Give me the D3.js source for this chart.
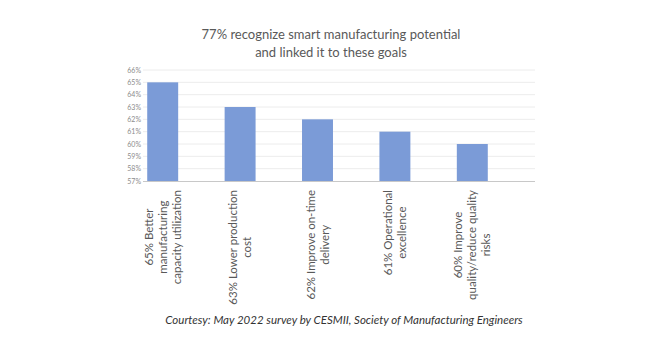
<!DOCTYPE html>
<html>
<head>
<meta charset="utf-8">
<script src="https://cdn.jsdelivr.net/npm/d3@7"></script>
<style>
  body { margin: 0; background: #fff; }
</style>
</head>
<body>
<div id="chart"></div>
<script>
// data
const categories = [
  ["65% Better", "manufacturing", "capacity utilization"],
  ["63% Lower production", "cost"],
  ["62% Improve on-time", "delivery"],
  ["61% Operational", "excellence"],
  ["60% Improve", "quality/reduce quality", "risks"]
];
const values = [65, 63, 62, 61, 60];
const yTicks = [57, 58, 59, 60, 61, 62, 63, 64, 65, 66];
const titleLines = ["77% recognize smart manufacturing potential", "and linked it to these goals"];
const footer = "Courtesy: May 2022 survey by CESMII, Society of Manufacturing Engineers";

const width = 645, height = 350;
const font = "Lato, 'Open Sans', sans-serif";

const svg = d3.select("#chart").append("svg")
  .attr("width", width)
  .attr("height", height);

const keys = categories.map(d => d.join(" "));

const x = d3.scaleBand()
  .domain(keys)
  .range([124, 511])
  .paddingInner(0.6)
  .paddingOuter(0.3);

const y = d3.scaleLinear()
  .domain([57, 66])
  .range([181, 70]);

// gridlines
svg.append("g")
  .selectAll("line")
  .data(yTicks.slice(1))
  .join("line")
  .attr("x1", 143).attr("x2", 535)
  .attr("y1", d => y(d)).attr("y2", d => y(d))
  .attr("stroke", "#ececec")
  .attr("stroke-width", 1);

// y axis labels
const yaxis = svg.append("g")
  .attr("transform", "translate(141,0)")
  .call(d3.axisLeft(y).tickValues(yTicks).tickSize(0).tickPadding(0).tickFormat(d => d + "%"))
  .call(g => g.select(".domain").remove());
yaxis.selectAll("text")
  .attr("font-family", font)
  .attr("font-size", "7px")
  .attr("fill", "#8c8c8c");

// bars
svg.append("g")
  .selectAll("rect")
  .data(values)
  .join("rect")
  .attr("x", (d, i) => x(keys[i]))
  .attr("y", d => y(d))
  .attr("width", x.bandwidth())
  .attr("height", d => y(57) - y(d))
  .attr("fill", "#7b9bd7");

// x axis line
svg.append("line")
  .attr("x1", 143).attr("x2", 535)
  .attr("y1", y(57) + 0.5).attr("y2", y(57) + 0.5)
  .attr("stroke", "#c8c8c8");

// category labels (rotated, lines centred, block top at axis)
const labels = svg.append("g");
categories.forEach((lines, i) => {
  const cx = x(keys[i]) + x.bandwidth() / 2;
  const g = labels.append("g");
  const lh = 14;
  const texts = lines.map((t, j) => g.append("text")
    .attr("font-family", font)
    .attr("font-size", "11.5px")
    .attr("fill", "#595959")
    .attr("text-anchor", "middle")
    .attr("dy", "0.35em")
    .attr("transform", `translate(${cx + (j - (lines.length - 1) / 2) * lh},0) rotate(-90)`)
    .text(t));
  const maxLen = d3.max(texts, t => t.node().getComputedTextLength());
  g.attr("transform", `translate(0,${190 + maxLen / 2})`);
});

// title
svg.append("g")
  .selectAll("text")
  .data(titleLines)
  .join("text")
  .attr("x", 331)
  .attr("y", (d, i) => 39 + i * 18)
  .attr("text-anchor", "middle")
  .attr("font-family", font)
  .attr("font-size", "13px")
  .attr("fill", "#595959")
  .text(d => d);

// footer
svg.append("text")
  .attr("x", 344)
  .attr("y", 324)
  .attr("text-anchor", "middle")
  .attr("font-family", font)
  .attr("font-size", "11.5px")
  .attr("font-style", "italic")
  .attr("fill", "#333")
  .text(footer);
</script>
</body>
</html>
